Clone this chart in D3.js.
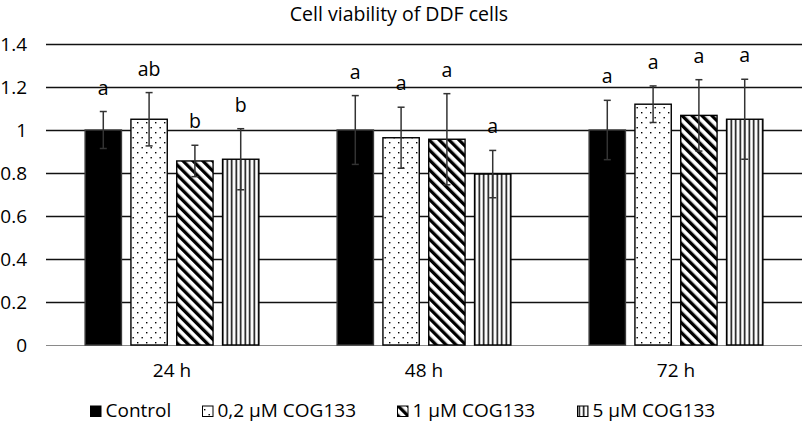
<!DOCTYPE html>
<html>
<head>
<meta charset="utf-8">
<script src="https://cdn.jsdelivr.net/npm/d3@7"></script>
<style>
  body { margin: 0; background: #fff; }
  svg { font-family: "Open Sans", sans-serif; }
</style>
</head>
<body>
<svg width="802" height="423"></svg>
<script>
// groups on the x axis and the four treatments
const groups = ["24 h", "48 h", "72 h"];
const series = ["Control", "0,2 µM COG133", "1 µM COG133", "5 µM COG133"];
const yTicks = [0, 0.2, 0.4, 0.6, 0.8, 1, 1.2, 1.4];

// mean viability per group
const control = [1.0, 1.0, 1.0];
const cog02 = [1.05, 0.964, 1.12];
const cog1 = [0.856, 0.957, 1.068];
const cog5 = [0.864, 0.795, 1.05];

// error (+/-)
const controlErr = [0.086, 0.16, 0.138];
const cog02Err = [0.124, 0.142, 0.085];
const cog1Err = [0.073, 0.212, 0.166];
const cog5Err = [0.142, 0.11, 0.186];

// significance letters
const controlSig = ["a", "a", "a"];
const cog02Sig = ["ab", "a", "a"];
const cog1Sig = ["b", "a", "a"];
const cog5Sig = ["b", "a", "a"];

const values = [control, cog02, cog1, cog5];
const errors = [controlErr, cog02Err, cog1Err, cog5Err];
const letters = [controlSig, cog02Sig, cog1Sig, cog5Sig];

const svg = d3.select("svg");
const margin = { left: 46, right: 0, top: 44, bottom: 78 };
const width = 802, height = 423;

const x0 = d3.scaleBand().domain(groups).range([margin.left, width - margin.right]);
const x1 = d3.scaleBand().domain(series).range([0, x0.bandwidth()])
  .paddingInner(0.207).paddingOuter(0.854);
const y = d3.scaleLinear().domain([0, 1.4]).range([height - margin.bottom, margin.top]);

// patterns
const defs = svg.append("defs");
const dots = defs.append("pattern").attr("id", "p-dots")
  .attr("patternUnits", "userSpaceOnUse").attr("width", 9).attr("height", 10);
dots.append("rect").attr("width", 9).attr("height", 10).attr("fill", "#fff");
dots.append("rect").attr("x", 2).attr("y", 2).attr("width", 1.4).attr("height", 1.4).attr("fill", "#000");
dots.append("rect").attr("x", 6.5).attr("y", 7).attr("width", 1.4).attr("height", 1.4).attr("fill", "#000");

const diag = defs.append("pattern").attr("id", "p-diag")
  .attr("patternUnits", "userSpaceOnUse").attr("width", 7).attr("height", 10)
  .attr("patternTransform", "rotate(-45)");
diag.append("rect").attr("width", 7).attr("height", 10).attr("fill", "#fff");
diag.append("rect").attr("width", 3.3).attr("height", 10).attr("fill", "#000");

const vert = defs.append("pattern").attr("id", "p-vert")
  .attr("patternUnits", "userSpaceOnUse").attr("width", 4.5).attr("height", 10);
vert.append("rect").attr("width", 4.5).attr("height", 10).attr("fill", "#fff");
vert.append("rect").attr("x", 1.5).attr("width", 1.5).attr("height", 10).attr("fill", "#000");

const fills = ["#000", "url(#p-dots)", "url(#p-diag)", "url(#p-vert)"];
const strokes = ["#3a3a3a", "#000", "#000", "#000"];

// title
svg.append("text")
  .attr("x", 399).attr("y", 20.5)
  .attr("text-anchor", "middle")
  .style("font-size", "19.5px")
  .text("Cell viability of DDF cells");

// y axis + gridlines
const yAxis = svg.append("g")
  .attr("transform", `translate(${margin.left},0)`)
  .call(d3.axisLeft(y)
    .tickValues(yTicks)
    .tickSize(-(width - margin.left - margin.right))
    .tickPadding(19)
    .tickFormat(d3.format("~g")));
yAxis.select(".domain").remove();
yAxis.selectAll(".tick line")
  .attr("stroke", d => d === 0 ? "#8a8a8a" : "#111")
  .attr("stroke-width", d => d === 0 ? 1.2 : 1.4);
yAxis.selectAll(".tick text")
  .attr("fill", "#000")
  .style("font-size", "19px")
  .style("font-family", "Open Sans, sans-serif");

// x axis labels
const xAxis = svg.append("g")
  .attr("transform", `translate(0,${height - margin.bottom})`)
  .call(d3.axisBottom(x0).tickSize(0).tickPadding(19));
xAxis.select(".domain").remove();
xAxis.selectAll(".tick text")
  .attr("fill", "#000")
  .style("font-size", "19px")
  .style("font-family", "Open Sans, sans-serif");

// bars
const rows = [];
groups.forEach((g, gi) => {
  series.forEach((s, si) => {
    rows.push({ g, s, si, v: values[si][gi], e: errors[si][gi], sig: letters[si][gi] });
  });
});

const barG = svg.append("g");
barG.selectAll("rect")
  .data(rows)
  .join("rect")
  .attr("x", d => x0(d.g) + x1(d.s))
  .attr("y", d => y(d.v))
  .attr("width", x1.bandwidth())
  .attr("height", d => y(0) - y(d.v))
  .attr("fill", d => fills[d.si])
  .attr("stroke", d => strokes[d.si])
  .attr("stroke-width", 1.4);

// error bars
const errG = svg.append("g")
  .attr("stroke", "#333")
  .attr("stroke-width", 1.5);
const cx = d => x0(d.g) + x1(d.s) + x1.bandwidth() / 2;
errG.selectAll("line.v")
  .data(rows).join("line").attr("class", "v")
  .attr("x1", cx).attr("x2", cx)
  .attr("y1", d => y(d.v + d.e)).attr("y2", d => y(d.v - d.e));
errG.selectAll("line.top")
  .data(rows).join("line").attr("class", "top")
  .attr("x1", d => cx(d) - 3.5).attr("x2", d => cx(d) + 3.5)
  .attr("y1", d => y(d.v + d.e)).attr("y2", d => y(d.v + d.e));
errG.selectAll("line.bot")
  .data(rows).join("line").attr("class", "bot")
  .attr("x1", d => cx(d) - 3.5).attr("x2", d => cx(d) + 3.5)
  .attr("y1", d => y(d.v - d.e)).attr("y2", d => y(d.v - d.e));

// significance letters
svg.append("g").selectAll("text")
  .data(rows).join("text")
  .attr("x", cx)
  .attr("y", d => y(d.v + d.e) - 17)
  .attr("text-anchor", "middle")
  .style("font-size", "19.5px")
  .text(d => d.sig);

// legend - Excel style slots
const legendX = [90, 202, 397, 577];
const legend = svg.append("g").attr("transform", "translate(0,417)");
const items = legend.selectAll("g")
  .data(series)
  .join("g")
  .attr("transform", (d, i) => `translate(${legendX[i]},0)`);
items.append("rect")
  .attr("x", 0.5).attr("y", -11)
  .attr("width", 10.5).attr("height", 10.5)
  .attr("fill", (d, i) => fills[i])
  .attr("stroke", "#000")
  .attr("stroke-width", 1);
items.append("text")
  .attr("x", 15.5)
  .style("font-size", "19px")
  .text(d => d);
</script>
</body>
</html>
